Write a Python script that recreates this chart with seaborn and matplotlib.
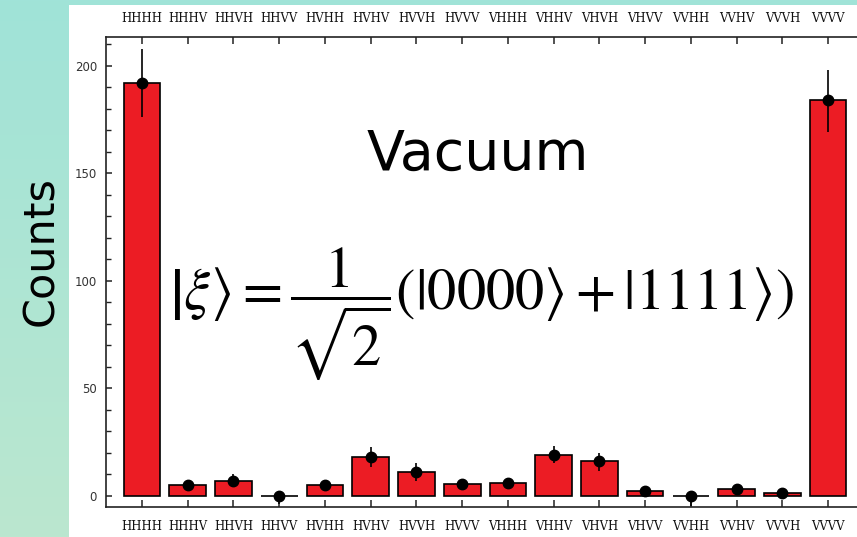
import numpy as np
import matplotlib
matplotlib.use("Agg")
import matplotlib.pyplot as plt
from matplotlib.colors import LinearSegmentedColormap
from matplotlib.patches import Rectangle
from matplotlib.ticker import MultipleLocator
import seaborn as sns

# Four-photon polarisation outcomes and measured coincidence counts
states = ["HHHH", "HHHV", "HHVH", "HHVV", "HVHH", "HVHV", "HVVH", "HVVV",
          "VHHH", "VHHV", "VHVH", "VHVV", "VVHH", "VVHV", "VVVH", "VVVV"]
counts = [192, 5, 7, 0, 5, 18, 11, 5.5, 6, 19, 16, 2, 0, 3, 1, 184]
err_low = [16, 2, 3, 4, 2, 4.5, 4, 2, 2, 4, 4.5, 1.5, 5, 2, 1.5, 15]
err_high = [16, 2, 3, 0, 2, 4.5, 4, 2, 2, 4, 4, 1.5, 0, 2, 1.5, 14]

y_ticks = [0, 50, 100, 150, 200]

sns.set_theme(style="ticks")
plt.rcParams["font.family"] = ["DejaVu Sans"]
plt.rcParams["mathtext.fontset"] = "stix"

W, H = 857, 537
fig = plt.figure(figsize=(W / 100, H / 100), dpi=100)

# slide background: teal-to-mint gradient with a white panel
bg = fig.add_axes([0, 0, 1, 1], zorder=0)
cmap = LinearSegmentedColormap.from_list("slide", ["#a0e3d8", "#bbe7cf"])
bg.imshow(np.linspace(0, 1, 256).reshape(-1, 1), aspect="auto", cmap=cmap,
          extent=[0, 1, 0, 1], origin="upper")
bg.add_patch(Rectangle((69 / W, 0), 1 - 69 / W, (H - 5) / H,
                       facecolor="white", edgecolor="none"))
bg.set_xlim(0, 1)
bg.set_ylim(0, 1)
bg.axis("off")

ax = fig.add_axes([106 / W, 30 / H, 1 - 106 / W, 470 / H], zorder=1)
ax.patch.set_alpha(0)

sns.barplot(x=states, y=counts, color="#ec1c24", saturation=1, width=0.8,
            edgecolor="black", linewidth=1.2, ax=ax, zorder=2)
ax.errorbar(np.arange(len(states)), counts, yerr=[err_low, err_high],
            fmt="o", color="black", markersize=7.5, elinewidth=1.2,
            capsize=0, zorder=3)

ax.set_xlim(-0.787, 15.63)
ax.set_ylim(-5.3, 213.4)
ax.set_yticks(y_ticks)
ax.yaxis.set_minor_locator(MultipleLocator(10))
ax.set_xlabel("")
ax.set_ylabel("")

for side in ["left", "top", "bottom"]:
    ax.spines[side].set_linewidth(1.2)
    ax.spines[side].set_color("#222222")
ax.spines["right"].set_visible(False)

ax.tick_params(axis="x", direction="in", length=5, width=1.1, color="#222222",
               top=True, labeltop=True, bottom=True, labelbottom=True, pad=9)
ax.tick_params(axis="y", which="major", direction="in", length=4.5, width=1.1,
               color="#222222", pad=6.5, labelsize=8.5, labelcolor="#333333")
ax.tick_params(axis="y", which="minor", direction="in", length=3.5, width=1.0,
               color="#222222", left=True)
for tick in ax.xaxis.get_major_ticks():
    for lab in (tick.label1, tick.label2):
        lab.set_fontfamily("DejaVu Serif")
        lab.set_fontsize(8.4)
        lab.set_color("#111111")

fig.text(41 / W, 1 - 251 / H, "Counts", rotation=90, ha="center", va="center",
         fontsize=31, color="black")
fig.text(478 / W, 1 - 155 / H, "Vacuum", ha="center", va="center",
         fontsize=40, color="black")
fig.text(481 / W, 1 - 314 / H,
         r"$\left|\xi\right\rangle=\dfrac{1}{\sqrt{2}}(\left|0000\right\rangle+\left|1111\right\rangle)$",
         ha="center", va="center", fontsize=42, color="black")

fig.savefig("out.png", dpi=100)
